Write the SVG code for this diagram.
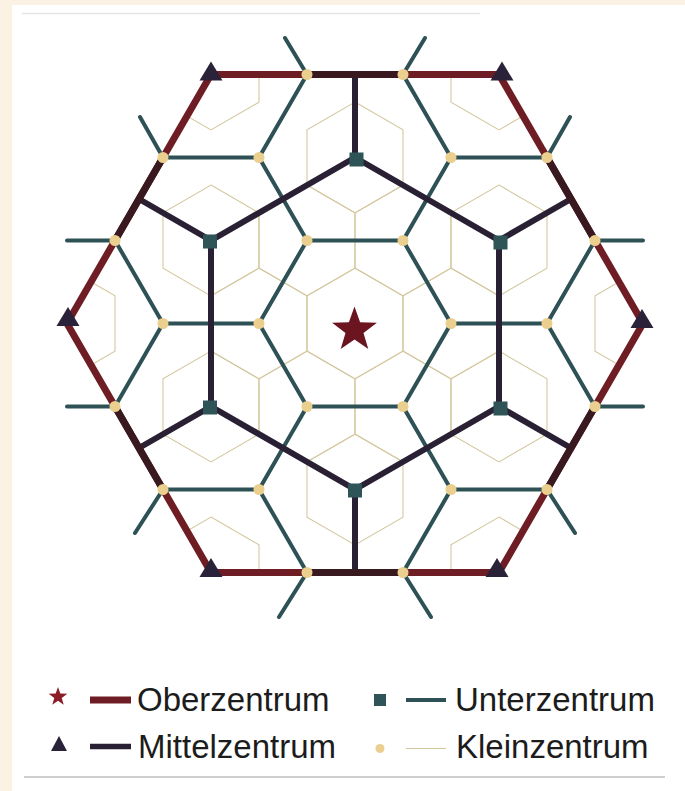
<svg xmlns="http://www.w3.org/2000/svg" xmlns:xlink="http://www.w3.org/1999/xlink" width="685" height="791" viewBox="0 0 685 791">
<defs>
<style>
.kl{fill:none;stroke:#d3c89f;stroke-width:1.1}
.ul{fill:none;stroke:#2d5154;stroke-width:4;stroke-linecap:round;stroke-linejoin:round}
.ml{fill:none;stroke:#2a2034;stroke-width:6;stroke-linecap:butt;stroke-linejoin:round}
.ol{fill:none;stroke:#6e1d24;stroke-width:7;stroke-linejoin:round}
.od{fill:none;stroke:#391920;stroke-width:7}
.kz{fill:#ebcf8f}
.uz{fill:#2e5457}
.mz{fill:#2a2238}
.oz{fill:#6a1520}
.lg{font-family:"Liberation Sans",Arial,Helvetica,sans-serif;font-size:33px;fill:#1c1c1c}
</style>
<polygon id="kh" points="0,-55.4 48,-27.7 48,27.7 0,55.4 -48,27.7 -48,-27.7"/>
<path id="tri" d="M0 -13 L11.5 6 L-11.5 6 Z"/>
<clipPath id="bigclip"><polygon points="67,323.5 211,74.5 499,74.5 643,323.5 499,572.5 211,572.5"/></clipPath>
</defs>
<rect x="0" y="0" width="685" height="791" fill="#fcf2e3"/>
<rect x="12" y="5" width="673" height="786" fill="#ffffff"/>
<line x1="22" y1="13.5" x2="480" y2="13.5" stroke="#e4e4e4" stroke-width="1.5"/>
<line x1="24" y1="777" x2="665" y2="777" stroke="#cfcfcf" stroke-width="2"/>

<g id="connectors">
<g id="kleinzentrum-grenzen" class="kl" clip-path="url(#bigclip)">
<use xlink:href="#kh" x="355" y="323.5"/>
<use xlink:href="#kh" x="451" y="323.5"/>
<use xlink:href="#kh" x="259" y="323.5"/>
<use xlink:href="#kh" x="403" y="240.5"/>
<use xlink:href="#kh" x="307" y="240.5"/>
<use xlink:href="#kh" x="403" y="406.5"/>
<use xlink:href="#kh" x="307" y="406.5"/>
<use xlink:href="#kh" x="355" y="157.5"/>
<use xlink:href="#kh" x="499" y="240.5"/>
<use xlink:href="#kh" x="499" y="406.5"/>
<use xlink:href="#kh" x="355" y="489.5"/>
<use xlink:href="#kh" x="211" y="406.5"/>
<use xlink:href="#kh" x="211" y="240.5"/>
<use xlink:href="#kh" x="211" y="74.5"/>
<use xlink:href="#kh" x="499" y="74.5"/>
<use xlink:href="#kh" x="643" y="323.5"/>
<use xlink:href="#kh" x="499" y="572.5"/>
<use xlink:href="#kh" x="211" y="572.5"/>
<use xlink:href="#kh" x="67" y="323.5"/>
</g>
<g id="unterzentrum-grenzen">
<path class="ul" d="M451 323.5 L403 240.5 L307 240.5 L259 323.5 L307 406.5 L403 406.5 Z
M403 74.5 L451 157.5 L403 240.5 M307 74.5 L259 157.5 L307 240.5
M403 572.5 L451 489.5 L403 406.5 M307 572.5 L259 489.5 L307 406.5
M547 157.5 L451 157.5 M451 323.5 L547 323.5 M595 240.5 L547 323.5 L595 406.5 M451 489.5 L547 489.5
M163 157.5 L259 157.5 M259 323.5 L163 323.5 M115 240.5 L163 323.5 L115 406.5 M259 489.5 L163 489.5
M307 74.5 L285 38 M403 74.5 L425 38 M163 157.5 L140 117 M547 157.5 L570 117
M115 240.5 L67 240.5 M595 240.5 L643 240.5 M115 406.5 L67 406.5 M595 406.5 L643 406.5
M163 489.5 L135 533 M547 489.5 L575 533 M307 572.5 L279 617 M403 572.5 L431 617"/>
</g>
<g id="mittelzentrum-grenzen">
<path class="ml" d="M355 157.5 L499 240.5 L499 406.5 L355 489.5 L211 406.5 L211 240.5 Z
M355 157.5 V74.5 M355 489.5 V572.5 M211 240.5 L139 199 M499 240.5 L571 199 M211 406.5 L139 448 M499 406.5 L571 448"/>
</g>
<g id="oberzentrum-grenze">
<polygon class="ol" points="67,323.5 211,74.5 499,74.5 643,323.5 499,572.5 211,572.5"/>
<path class="od" d="M307 74.5 H403 M307 572.5 H403 M163 157.5 L115 240.5 M115 406.5 L163 489.5 M547 157.5 L595 240.5 M595 406.5 L547 489.5"/>
</g>
</g>

<g id="oz-center"><path class="oz" d="M354.5 306.5 L360.1 322.3 L376.9 322.7 L363.5 332.9 L368.3 349 L354.5 339.5 L340.7 349 L345.5 332.9 L332.1 322.7 L348.9 322.3 Z"/></g>

<g id="mz-nw"><use xlink:href="#tri" class="mz" x="211" y="74.5"/></g>
<g id="mz-ne"><use xlink:href="#tri" class="mz" x="502" y="74.5"/></g>
<g id="mz-e"><use xlink:href="#tri" class="mz" x="642" y="322"/></g>
<g id="mz-se"><use xlink:href="#tri" class="mz" x="497" y="571"/></g>
<g id="mz-sw"><use xlink:href="#tri" class="mz" x="211" y="571"/></g>
<g id="mz-w"><use xlink:href="#tri" class="mz" x="68" y="320"/></g>

<g id="uz-n"><rect class="uz" x="349.5" y="152.5" width="14" height="14"/></g>
<g id="uz-ne"><rect class="uz" x="493.5" y="235.5" width="14" height="14"/></g>
<g id="uz-se"><rect class="uz" x="493.5" y="401.5" width="14" height="14"/></g>
<g id="uz-s"><rect class="uz" x="348" y="483.5" width="14" height="14"/></g>
<g id="uz-sw"><rect class="uz" x="203" y="400.5" width="14" height="14"/></g>
<g id="uz-nw"><rect class="uz" x="203" y="234.5" width="14" height="14"/></g>

<g id="kz-1"><circle class="kz" cx="307" cy="74.5" r="5.5"/></g>
<g id="kz-2"><circle class="kz" cx="403" cy="74.5" r="5.5"/></g>
<g id="kz-3"><circle class="kz" cx="307" cy="572.5" r="5.5"/></g>
<g id="kz-4"><circle class="kz" cx="403" cy="572.5" r="5.5"/></g>
<g id="kz-5"><circle class="kz" cx="163" cy="157.5" r="5.5"/></g>
<g id="kz-6"><circle class="kz" cx="547" cy="157.5" r="5.5"/></g>
<g id="kz-7"><circle class="kz" cx="163" cy="489.5" r="5.5"/></g>
<g id="kz-8"><circle class="kz" cx="547" cy="489.5" r="5.5"/></g>
<g id="kz-9"><circle class="kz" cx="115" cy="240.5" r="5.5"/></g>
<g id="kz-10"><circle class="kz" cx="595" cy="240.5" r="5.5"/></g>
<g id="kz-11"><circle class="kz" cx="115" cy="406.5" r="5.5"/></g>
<g id="kz-12"><circle class="kz" cx="595" cy="406.5" r="5.5"/></g>
<g id="kz-13"><circle class="kz" cx="259" cy="157.5" r="5.5"/></g>
<g id="kz-14"><circle class="kz" cx="451" cy="157.5" r="5.5"/></g>
<g id="kz-15"><circle class="kz" cx="259" cy="489.5" r="5.5"/></g>
<g id="kz-16"><circle class="kz" cx="451" cy="489.5" r="5.5"/></g>
<g id="kz-17"><circle class="kz" cx="307" cy="240.5" r="5.5"/></g>
<g id="kz-18"><circle class="kz" cx="403" cy="240.5" r="5.5"/></g>
<g id="kz-19"><circle class="kz" cx="307" cy="406.5" r="5.5"/></g>
<g id="kz-20"><circle class="kz" cx="403" cy="406.5" r="5.5"/></g>
<g id="kz-21"><circle class="kz" cx="259" cy="323.5" r="5.5"/></g>
<g id="kz-22"><circle class="kz" cx="451" cy="323.5" r="5.5"/></g>
<g id="kz-23"><circle class="kz" cx="163" cy="323.5" r="5.5"/></g>
<g id="kz-24"><circle class="kz" cx="547" cy="323.5" r="5.5"/></g>

<g id="legend">
<g id="lg-oz">
<path d="M58 687 L60.3 693.6 L67.3 693.8 L61.7 698 L63.7 704.7 L58 700.8 L52.3 704.7 L54.3 698 L48.7 693.8 L55.7 693.6 Z" fill="#8c1c26"/>
<line x1="90" y1="700" x2="131" y2="700" stroke="#6e1d24" stroke-width="7"/>
<text class="lg" x="137" y="711">Oberzentrum</text>
</g>
<g id="lg-uz">
<rect class="uz" x="374" y="694" width="12" height="12"/>
<line x1="406" y1="700" x2="446" y2="700" stroke="#2d5154" stroke-width="4"/>
<text class="lg" x="455" y="711">Unterzentrum</text>
</g>
<g id="lg-mz">
<path class="mz" d="M59 736 L67 751 L51 751 Z"/>
<line x1="90" y1="746.5" x2="131" y2="746.5" stroke="#2a2034" stroke-width="5.5"/>
<text class="lg" x="138" y="758">Mittelzentrum</text>
</g>
<g id="lg-kz">
<circle class="kz" cx="380" cy="748.5" r="4.5"/>
<line x1="406" y1="748.5" x2="446" y2="748.5" stroke="#d3c89f" stroke-width="1.2"/>
<text class="lg" x="456" y="758">Kleinzentrum</text>
</g>
</g>
</svg>
